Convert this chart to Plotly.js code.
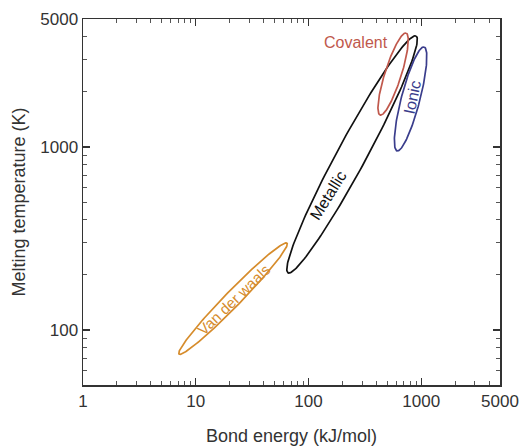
<!DOCTYPE html>
<html>
<head>
<meta charset="utf-8">
<script src="https://cdn.plot.ly/plotly-3.0.1.min.js"></script>
<style>html,body{margin:0;padding:0;background:#fff;}#chart{width:521px;height:446px;}</style>
</head>
<body>
<div id="chart"></div>
<script>
// Bonding-type regions (ellipses on log-log axes)
const names = ['Van der waals', 'Metallic', 'Covalent', 'Ionic'];
// lower end of each region's long axis (bond energy kJ/mol, melting temperature K)
const lowEnergy = [7.11, 65.9, 432, 611];
const lowTemp = [73.8, 205, 1493, 951];
// upper end of each region's long axis
const highEnergy = [64.6, 901, 735, 1061];
const highTemp = [298, 4036, 4188, 3516];
// half thickness of each region across its long axis (screen px at chart size)
const halfThickness = [7.8, 14.5, 8.2, 9.3];
// label anchor points
const labelEnergy = [21.9, 149, 263, 830];
const labelTemp = [146, 543, 3720, 1870];

const xTickVals = [1, 10, 100, 1000, 5000];
const xTickText = ['1', '10', '100', '1000', '5000'];
const xMinorVals = [2,3,4,5,6,7,8,9,20,30,40,50,60,70,80,90,200,300,400,500,600,700,800,900,2000,3000,4000];
const yTickVals = [100, 1000, 5000];
const yTickText = ['100', '1000', '5000'];
const yMinorVals = [50,60,70,80,90,200,300,400,500,600,700,800,900,2000,3000,4000];

const colors = ['#d68c2c', '#111111', '#c0584c', '#3a3d8c'];
const labelAngles = [-44, -58, 0, -78];
const labelSizes = [15, 16, 16, 16];

const W = 521, H = 446;
const margin = {l: 83, r: 21, t: 19, b: 61};
const xRange = [0, Math.log10(5000)];
const yRange = [Math.log10(50), Math.log10(5000)];
// screen pixels per decade, so the thickness is perpendicular on screen
const sx = (W - margin.l - margin.r) / (xRange[1] - xRange[0]);
const sy = (H - margin.t - margin.b) / (yRange[1] - yRange[0]);

const traces = names.map(function (n, i) {
  const x1 = Math.log10(lowEnergy[i]) * sx, y1 = Math.log10(lowTemp[i]) * sy;
  const x2 = Math.log10(highEnergy[i]) * sx, y2 = Math.log10(highTemp[i]) * sy;
  const cx = (x1 + x2) / 2, cy = (y1 + y2) / 2;
  const ax = x2 - cx, ay = y2 - cy;
  const len = Math.sqrt(ax * ax + ay * ay);
  const nx = -ay / len * halfThickness[i], ny = ax / len * halfThickness[i];
  const xs = [], ys = [];
  const N = 180;
  for (let k = 0; k <= N; k++) {
    const t = 2 * Math.PI * k / N;
    const px = cx + ax * Math.cos(t) + nx * Math.sin(t);
    const py = cy + ay * Math.cos(t) + ny * Math.sin(t);
    xs.push(Math.pow(10, px / sx));
    ys.push(Math.pow(10, py / sy));
  }
  return {
    x: xs, y: ys, type: 'scatter', mode: 'lines', name: n,
    line: {color: colors[i], width: 1.7},
    hoverinfo: 'skip', showlegend: false
  };
});

const fam = 'Liberation Sans, Arial, sans-serif';

const annotations = names.map(function (n, i) {
  return {
    x: Math.log10(labelEnergy[i]), y: Math.log10(labelTemp[i]),
    xref: 'x', yref: 'y', text: n, showarrow: false,
    textangle: labelAngles[i],
    font: {family: fam, size: labelSizes[i], color: colors[i]}
  };
});

const axisCommon = {
  type: 'log',
  showgrid: false, zeroline: false,
  showline: true, linecolor: '#333', linewidth: 1.5,
  mirror: 'ticks',
  ticks: 'inside', ticklen: 7, tickwidth: 1.2, tickcolor: '#333',
  tickfont: {family: fam, size: 17, color: '#333'},
  tickmode: 'array'
};

const layout = {
  width: W, height: H,
  margin: margin,
  paper_bgcolor: '#fff', plot_bgcolor: '#fff',
  font: {family: fam, color: '#333'},
  showlegend: false,
  xaxis: Object.assign({}, axisCommon, {
    range: xRange,
    tickvals: xTickVals, ticktext: xTickText,
    minor: {tickmode: 'array', tickvals: xMinorVals, ticks: 'inside', ticklen: 4, tickwidth: 1, tickcolor: '#555', showgrid: false},
    title: {text: 'Bond energy (kJ/mol)', font: {family: fam, size: 18, color: '#333'}, standoff: 25}
  }),
  yaxis: Object.assign({}, axisCommon, {
    range: yRange,
    tickvals: yTickVals, ticktext: yTickText,
    minor: {tickmode: 'array', tickvals: yMinorVals, ticks: 'inside', ticklen: 4, tickwidth: 1, tickcolor: '#555', showgrid: false},
    title: {text: 'Melting temperature (K)', font: {family: fam, size: 18, color: '#333'}, standoff: 10}
  }),
  annotations: annotations
};

Plotly.newPlot('chart', traces, layout, {displayModeBar: false, staticPlot: true});
</script>
</body>
</html>
